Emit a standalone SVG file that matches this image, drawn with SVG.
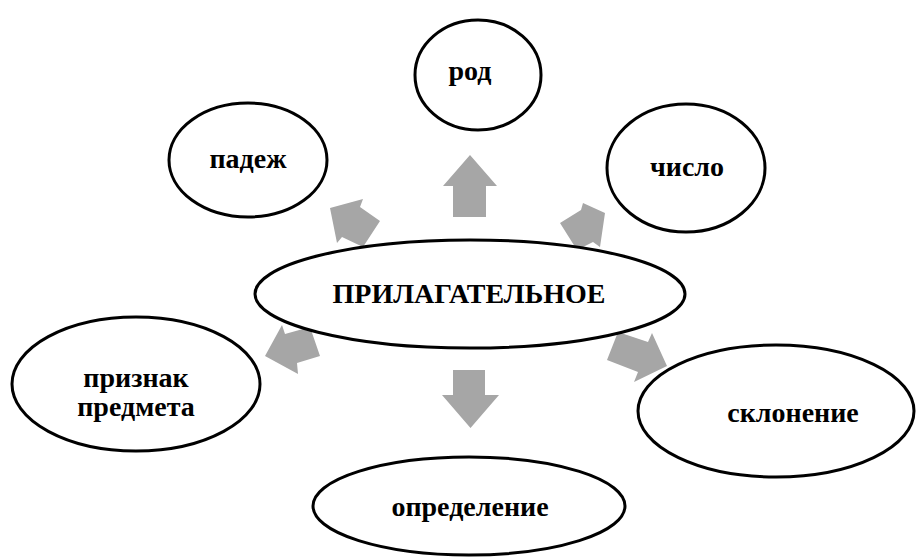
<svg xmlns="http://www.w3.org/2000/svg" width="917" height="557" viewBox="0 0 917 557">
<style>
.n{fill:#fff;stroke:#000;stroke-width:3}
.t{font-family:"Liberation Serif","Times New Roman",serif;font-weight:bold;font-size:28px;fill:#000;text-anchor:middle}
.a{fill:#a6a6a6;stroke:none}
</style>
<rect width="917" height="557" fill="#fff"/>
<g id="connectors">
<polygon class="a" points="470,155 497,186 486,186 486,217 453,217 453,186 443,186"/>
<polygon class="a" points="330,208 363,199 360,207 380,221 363,247 342,237 337,243"/>
<polygon class="a" points="605,213 583,203 581,210 560,223 577,250 593,242 600,247"/>
<polygon class="a" points="265,356 282,325 285,334 310,327 320,356 297,363 298,374"/>
<polygon class="a" points="667,366 652,333 648,342 618,332 607,360 638,372 634,382"/>
<polygon class="a" points="470.5,428 499,395 485,395 485,370 453,370 453,395 442,395"/>
</g>
<g id="rod"><ellipse class="n" cx="478" cy="75" rx="63" ry="55"/><text class="t" x="470" y="80">род</text></g>
<g id="padezh"><ellipse class="n" cx="248" cy="160" rx="79" ry="57"/><text class="t" x="248" y="168">падеж</text></g>
<g id="chislo"><ellipse class="n" cx="686" cy="168" rx="79" ry="64"/><text class="t" x="687" y="176">число</text></g>
<g id="prilagatelnoe"><ellipse class="n" cx="470" cy="294" rx="215" ry="54"/><text class="t" x="469" y="303">ПРИЛАГАТЕЛЬНОЕ</text></g>
<g id="priznak"><ellipse class="n" cx="136" cy="384" rx="124" ry="67"/><text class="t" x="136" y="387">признак</text><text class="t" x="136" y="416">предмета</text></g>
<g id="sklonenie"><ellipse class="n" cx="776" cy="411" rx="138" ry="66"/><text class="t" x="793" y="422">склонение</text></g>
<g id="opredelenie"><ellipse class="n" cx="469" cy="506" rx="156" ry="49"/><text class="t" x="470" y="516">определение</text></g>
</svg>
